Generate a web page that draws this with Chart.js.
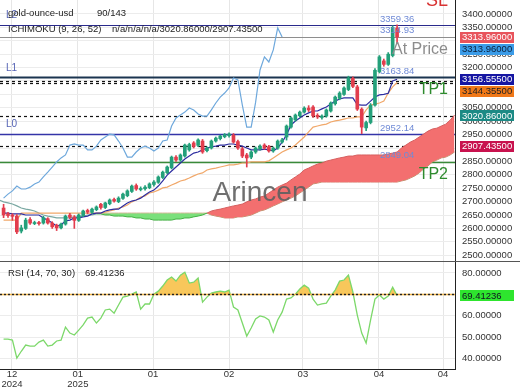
<!DOCTYPE html>
<html><head><meta charset="utf-8">
<script src="https://cdn.jsdelivr.net/npm/chart.js@4.4.1/dist/chart.umd.min.js"></script>
<style>
html,body{margin:0;padding:0;background:#fff;overflow:hidden;}
#wrap{position:relative;width:520px;height:390px;background:#fff;}
#main{position:absolute;left:0;top:0;width:520px;height:261px;}
#rsi{position:absolute;left:0;top:260px;width:520px;height:130px;}
</style></head><body>
<div id="wrap"><canvas id="main" width="520" height="261"></canvas><canvas id="rsi" width="520" height="130"></canvas></div>
<script>
// ---------------- data ----------------
const xTickValues = [1.9, 16.8, 33.8, 51, 67.7, 84.9, 99.4];
const xTickLabels = [['12','2024'], ['01','2025'], '01', '02', '03', '04', '04'];
const priceTicks = [2500,2550,2600,2650,2700,2750,2800,2850,2900,2950,3000,3050,3100,3150,3200,3250,3300,3350,3400];
const rsiTicks = [40,50,60,70,80];

const opens = [2676,2655,2650,2646,2590,2600,2633,2618,2622,2620,
2636,2620,2612,2602,2616,2650,2642,2630,2648,2667,
2660,2670,2690,2678,2692,2708,2700,2712,2722,2738,
2760,2745,2748,2752,2764,2772,2790,2808,2826,2866,
2855,2870,2893,2919,2910,2926,2890,2900,2926,2935,
2942,2946,2948,2924,2897,2874,2866,2885,2897,2911,
2905,2889,2900,2922,2941,2978,3005,3020,3034,3049,
3053,3022,3014,3019,3038,3065,3085,3100,3118,3160,
3128,3045,2975,2995,3060,3185,3225,3212,3245,3348];
const highs = [2690,2660,2655,2652,2612,2638,2640,2627,2626,2645,
2640,2625,2616,2620,2650,2656,2648,2654,2668,2672,
2676,2684,2694,2698,2710,2713,2718,2732,2744,2762,
2766,2755,2760,2770,2778,2796,2814,2833,2870,2872,
2878,2915,2918,2924,2934,2932,2904,2930,2941,2948,
2954,2957,2954,2930,2903,2880,2890,2904,2912,2916,
2910,2904,2930,2936,2986,3016,3027,3038,3054,3058,
3058,3028,3024,3046,3072,3094,3110,3128,3168,3166,
3134,3050,3000,3066,3196,3245,3232,3256,3356,3359.36];
const lows = [2640,2641,2630,2580,2583,2596,2615,2614,2612,2616,
2616,2600,2592,2598,2612,2636,2600,2626,2644,2655,
2656,2666,2672,2674,2688,2698,2696,2708,2718,2734,
2742,2740,2743,2748,2758,2768,2786,2804,2822,2850,
2850,2866,2888,2900,2905,2880,2885,2896,2922,2930,
2938,2940,2918,2895,2864,2829,2860,2880,2892,2895,
2884,2884,2895,2918,2929.35,2974,3000,3015,3030,3036,
3014,3010,3008,3015,3034,3060,3080,3096,3114,3125,
3040,2953.75,2965,2990,3056,3180,3205,3208,3240,3290];
const closes = [2650,2648,2645,2587,2602,2631,2620,2622,2618,2640,
2620,2606,2602,2616,2646,2642,2630,2650,2665,2661,
2672,2680,2678,2695,2706,2702,2713,2728,2740,2758,
2747,2749,2754,2766,2773,2792,2810,2829,2866,2855,
2874,2911,2913,2906,2930,2885,2900,2926,2937,2945,
2950,2952,2922,2900,2870,2863,2885,2900,2907,2900,
2889,2900,2926,2930,2982,3012,3023,3034,3049,3042,
3020,3016,3019,3042,3068,3090,3105,3124,3161,3130,
3045,2978,2995,3060,3190,3240,3212,3250,3350,3313.96];

const tenkan = [2657,2657,2654,2654,2654,2650,2650,2650,2650,2639,
2631,2620,2609,2613,2628,2631,2639,2639,2643,2646,
2654,2657,2657,2665,2669,2672,2672,2684,2695,2702,
2706,2713,2725,2736,2743,2758,2777,2799,2814,2829,
2844,2859,2870,2881,2885,2893,2900,2904,2907,2911,
2911,2915,2915,2911,2907,2900,2893,2893,2893,2896,
2893,2889,2900,2922,2949,2986,3001,3012,3023,3031,
3038,3038,3046,3053,3064,3075,3083,3087,3087,3087,
3062,3060,3060,3075,3090,3098,3100,3104,3150,3156.555];
const kijun = [2631,2631,2631,2631,2657,2657,2657,2657,2657,2657,
2657,2657,2657,2657,2657,2657,2657,2657,2657,2657,
2657,2657,2657,2661,2665,2669,2676,2680,2687,2699,
2706,2717,2721,2732,2736,2743,2751,2754,2762,2769,
2777,2781,2788,2796,2803,2807,2818,2822,2825,2829,
2833,2837,2837,2840,2844,2844,2848,2848,2848,2848,
2852,2863,2874,2885,2893,2900,2911,2926,2941,2960,
2978,2982,2986,2989,2997,3001,3004,3008,3012,3012,
3016,3016,3042,3060,3064,3068,3075,3105,3128,3144.355];
const chikou = [2713,2728,2740,2758,2747,2747,2754,2766,2773,2792,
2810,2829,2848,2863,2874,2911,2915,2911,2911,2893,
2893,2907,2930,2941,2952,2949,2926,2900,2866,2866,
2885,2900,2907,2900,2889,2900,2926,2930,2982,3012,
3023,3034,3049,3042,3027,3019,3019,3042,3068,3090,
3105,3124,3161,3154,3060,2978,2978,3070,3191,3240,
3221,3266,3348,3314];
// senkou span A, first value sits at index -1
const senkouA = [2706,2699,2695,2691,2684,2676,2672,2669,2665,2657,
2650,2646,2643,2639,2639,2639,2639,2643,2643,2646,
2650,2650,2654,2654,2650,2650,2646,2646,2646,2643,
2643,2639,2639,2635,2635,2631,2631,2631,2631,2631,
2635,2635,2639,2639,2643,2646,2650,2657,2665,2669,
2672,2676,2680,2684,2687,2691,2699,2706,2710,2717,
2721,2732,2743,2754,2762,2769,2781,2792,2803,2818,
2825,2833,2840,2844,2851,2855,2859,2863,2866,2870,
2870,2874,2874,2874,2874,2874,2874,2874,2878,2881,
2885,2900,2911,2922,2930,2941,2952,2963,2971,2974,
2982,2989,3004,3023];
// senkou span B, first value sits at index 21
const senkouB = [2657,2657,2657,2657,2657,2657,2657,2657,2657,2657,
2657,2657,2657,2657,2657,2657,2657,2657,2657,2657,
2657,2657,2657,2657,2657,2657,2650,2646,2643,2639,
2639,2639,2643,2643,2646,2650,2657,2665,2669,2676,
2684,2691,2699,2706,2713,2721,2732,2743,2754,2766,
2769,2773,2773,2773,2773,2773,2773,2773,2773,2773,
2773,2773,2773,2773,2773,2773,2773,2773,2773,2777,
2781,2788,2796,2807,2822,2833,2848,2855,2863,2866,
2874,2885];
const rsi = [49.1,49.1,48.6,40.2,43.4,46.3,45.8,45.8,47.7,48.6,
45.8,46.3,48.2,48.6,54.7,51.9,51.0,53.3,55.7,58.9,
59.4,56.6,58.9,62.7,63.1,61.2,65.0,68.7,69.2,70.1,
71.1,63.1,65.5,65.5,70.1,71.5,73.9,76.7,78.1,76.2,
79.0,80.4,75.3,75.7,77.6,66.4,68.7,70.6,71.1,71.5,
71.1,72.0,64.1,62.7,56.6,50.5,54.3,58.5,59.9,59.4,
58.0,52.4,58.0,61.7,67.8,68.3,70.1,72.5,74.3,72.9,
67.8,65.0,65.5,65.9,69.2,72.0,76.2,76.7,79.0,71.1,
60.3,51.9,47.2,58.0,67.8,69.7,67.8,69.2,73.4,69.41236];

const levelValues = [3359.36, 3313.96, 3163.84, 3151, 3142, 3020.86, 2952.14, 2907.435, 2849.04];
const levelTexts = [3359.36, 3314.93, 3163.84, 2952.14, 2849.04];
const lineNames = ['L2', 'L1', 'L0'];
const lineNameValues = [3359.36, 3163.84, 2952.14];
const badgeValues = [3313.96, 3313.96, 3156.555, 3144.355, 3020.86, 2907.435];
const rsiLevel = 70;

// ---------------- styles ----------------
const FONT = "'Liberation Sans', Arial, sans-serif";
Chart.defaults.font.family = FONT;
Chart.defaults.font.size = 9.5;
Chart.defaults.color = '#333';
const UP = '#23a07a', DOWN = '#e23d4d';
const A_START = -1, B_START = 21, CROSS = 46;
const X_MIN = -0.81, X_MAX = 102.1;
const levelStyles = [
  {c:'#2a2a8c', w:1.2, d:[]}, {c:'#8e8e8e', w:1, d:[]}, {c:'#1b3550', w:2, d:[]},
  {c:'#111', w:1.2, d:[3,3]}, {c:'#111', w:1.2, d:[3,3]}, {c:'#111', w:1.2, d:[3,3]},
  {c:'#3434a8', w:1.3, d:[]}, {c:'#111', w:1.2, d:[3,3]}, {c:'#3a8a3a', w:1.3, d:[]}
];
const badgeStyles = [
  {bg:'#e8545c', fg:'#fff'}, {bg:'#3b9ce8', fg:'#0b1f3a'}, {bg:'#1616a2', fg:'#fff'},
  {bg:'#f07818', fg:'#222'}, {bg:'#1c8a85', fg:'#fff'}, {bg:'#c8124e', fg:'#fff'}
];

const pts = (arr, start) => arr.map((v, k) => ({x: start + k, y: v}));
const candleColors = closes.map((c, i) => c >= opens[i] ? UP : DOWN);
const zeroPad = s => { s.paddingTop = 0; s.paddingBottom = 0; s.paddingLeft = 0; s.paddingRight = 0; };
const xTicksHook = s => { s.ticks = xTickValues.map(v => ({value: v})); };

const mainDeco = {
  id: 'mainDeco',
  beforeDatasetsDraw(chart) {
    const {ctx, chartArea: a, scales: {y}} = chart;
    ctx.save();
    levelValues.forEach((v, k) => {
      const st = levelStyles[k];
      const py = Math.round(y.getPixelForValue(v)) + 0.5;
      ctx.beginPath(); ctx.strokeStyle = st.c; ctx.lineWidth = st.w; ctx.setLineDash(st.d);
      ctx.moveTo(a.left, py); ctx.lineTo(a.right, py); ctx.stroke();
    });
    ctx.restore();
  },
  afterDatasetsDraw(chart) {
    const {ctx, scales: {y}} = chart;
    ctx.save();
    ctx.textBaseline = 'middle'; ctx.textAlign = 'left';
    ctx.font = '9.5px ' + FONT; ctx.fillStyle = '#6f8ad6';
    levelTexts.forEach(v => ctx.fillText(v.toFixed(2), 380, y.getPixelForValue(v) - 6));
    ctx.fillStyle = '#5563b5'; ctx.font = '10px ' + FONT;
    lineNames.forEach((n, k) => ctx.fillText(n, 6, y.getPixelForValue(lineNameValues[k]) - 9.5));
    ctx.fillStyle = '#222'; ctx.font = '9.5px ' + FONT;
    ctx.fillText('gold-ounce-usd', 8, 13);
    ctx.fillText('90/143', 97, 13);
    ctx.fillText('ICHIMOKU (9, 26, 52)', 8, 29);
    ctx.fillText('n/a/n/a/n/a/3020.86000/2907.43500', 112, 29);
    ctx.textAlign = 'right';
    ctx.font = '18px ' + FONT; ctx.fillStyle = '#d83232';
    ctx.fillText('SL', 448, y.getPixelForValue(levelValues[0]) - 24);
    ctx.font = '16px ' + FONT; ctx.fillStyle = '#8c8c8c';
    ctx.fillText('At Price', 448, y.getPixelForValue(levelValues[1]) + 12.5);
    ctx.fillStyle = '#2e8b2e';
    ctx.fillText('TP1', 448, y.getPixelForValue(levelValues[4]) + 6.5);
    ctx.fillText('TP2', 448, y.getPixelForValue(levelValues[8]) + 12.5);
    ctx.textAlign = 'center'; ctx.font = '28px ' + FONT; ctx.fillStyle = 'rgba(95,95,95,0.9)';
    ctx.fillText('Arincen', 260, 193);
    ctx.restore();
  },
  afterDraw(chart) {
    const {ctx, scales: {y}} = chart;
    ctx.save();
    ctx.textBaseline = 'middle'; ctx.textAlign = 'left'; ctx.font = '9.5px ' + FONT;
    let prev = -Infinity;
    badgeValues.forEach((v, k) => {
      const py = Math.max(y.getPixelForValue(v), prev + 12); prev = py;
      ctx.fillStyle = badgeStyles[k].bg; ctx.fillRect(460, Math.round(py - 5.5), 54, 11);
      ctx.fillStyle = badgeStyles[k].fg; ctx.fillText(v.toFixed(5), 462, py + 0.5);
    });
    ctx.restore();
  }
};

new Chart(document.getElementById('main'), {
  type: 'bar',
  data: { datasets: [
    {type:'bar', data: closes.map((c, i) => ({x: i, y: [opens[i], c]})), backgroundColor: candleColors, borderWidth: 0, barThickness: 3, grouped: false, order: 0},
    {type:'bar', data: closes.map((c, i) => ({x: i, y: [lows[i], highs[i]]})), backgroundColor: candleColors, borderWidth: 0, barThickness: 1, grouped: false, order: 1},
    {type:'line', data: pts(tenkan, 0), borderColor: '#2d2da0', borderWidth: 1.2, pointRadius: 0, fill: false, order: 2},
    {type:'line', data: pts(kijun, 0), borderColor: '#f1a86a', borderWidth: 1.2, pointRadius: 0, fill: false, order: 3},
    {type:'line', data: pts(chikou, 0), borderColor: '#6ea8dc', borderWidth: 1.2, pointRadius: 0, fill: false, order: 4},
    {type:'line', data: pts(senkouA.slice(0, B_START - A_START + 1), A_START), borderColor: '#7aa8a2', borderWidth: 1.2, pointRadius: 0, fill: false, order: 5},
    {type:'line', data: pts(senkouA.slice(B_START - A_START), B_START), borderWidth: 1, pointRadius: 0, order: 6,
     segment: {borderColor: c => (c.p0DataIndex + B_START < CROSS ? '#45b045' : '#d66060')},
     fill: {target: 7, above: '#f36f6f', below: '#7be07b'}},
    {type:'line', data: pts(senkouB, B_START), borderWidth: 1, pointRadius: 0, fill: false, order: 7,
     segment: {borderColor: c => (c.p0DataIndex + B_START < CROSS ? '#c9a57a' : '#d8786a')}}
  ]},
  options: {
    responsive: false, animation: false, devicePixelRatio: 1, events: [],
    layout: {padding: 0},
    plugins: {legend: {display: false}, tooltip: {enabled: false}},
    scales: {
      x: {type: 'linear', min: X_MIN, max: X_MAX, offset: false, position: 'bottom',
          grid: {color: '#e6e6e6', drawTicks: false, offset: false}, border: {display: false},
          ticks: {display: false, autoSkip: false},
          afterBuildTicks: xTicksHook,
          afterFit: s => { s.height = 0; zeroPad(s); }},
      y: {type: 'linear', position: 'right', min: 2478.4, max: 3452.2,
          grid: {color: '#ececec', drawTicks: false}, border: {display: true, color: '#222', width: 1},
          ticks: {padding: 7, autoSkip: false, color: '#333', callback: v => Number(v).toFixed(5)},
          afterBuildTicks: s => { s.ticks = priceTicks.map(v => ({value: v})); },
          afterFit: s => { s.width = 65; zeroPad(s); }}
    }
  },
  plugins: [mainDeco]
});

const rsiDeco = {
  id: 'rsiDeco',
  afterDatasetsDraw(chart) {
    const {ctx, chartArea: a, scales: {y}} = chart;
    const py = Math.round(y.getPixelForValue(rsiLevel)) + 0.5;
    ctx.save();
    ctx.beginPath(); ctx.strokeStyle = '#f0b448'; ctx.lineWidth = 1.4;
    ctx.moveTo(a.left, py); ctx.lineTo(a.right, py); ctx.stroke();
    ctx.beginPath(); ctx.strokeStyle = '#222'; ctx.setLineDash([2, 2]);
    ctx.moveTo(a.left, py); ctx.lineTo(a.right, py); ctx.stroke();
    ctx.setLineDash([]);
    ctx.fillStyle = '#222'; ctx.font = '9.5px ' + FONT; ctx.textBaseline = 'middle'; ctx.textAlign = 'left';
    ctx.fillText('RSI (14, 70, 30)', 8, 13);
    ctx.fillText(rsi[rsi.length - 1].toFixed(5), 85, 13);
    ctx.restore();
  },
  afterDraw(chart) {
    const {ctx, scales: {y}} = chart;
    ctx.save();
    ctx.fillStyle = '#555'; ctx.fillRect(0, 1, 520, 1);
    const v = rsi[rsi.length - 1];
    const py = y.getPixelForValue(v);
    ctx.fillStyle = '#2ee52e'; ctx.fillRect(460, Math.round(py - 5.5), 54, 11);
    ctx.fillStyle = '#112'; ctx.font = '9.5px ' + FONT; ctx.textBaseline = 'middle'; ctx.textAlign = 'left';
    ctx.fillText(v.toFixed(5), 462, py + 0.5);
    ctx.restore();
  }
};

new Chart(document.getElementById('rsi'), {
  type: 'line',
  data: { datasets: [
    {data: pts(rsi, 0), borderColor: '#7cd86a', borderWidth: 1.3, pointRadius: 0,
     fill: {target: {value: rsiLevel}, above: 'rgba(248,196,82,0.95)', below: 'rgba(0,0,0,0)'}}
  ]},
  options: {
    responsive: false, animation: false, devicePixelRatio: 1, events: [],
    layout: {padding: {top: 1, left: 0, right: 0, bottom: 0}},
    plugins: {legend: {display: false}, tooltip: {enabled: false}},
    scales: {
      x: {type: 'linear', min: X_MIN, max: X_MAX, offset: false, position: 'bottom',
          grid: {color: '#e6e6e6', drawTicks: false, offset: false}, border: {display: true, color: '#222', width: 1},
          ticks: {autoSkip: false, maxRotation: 0, padding: 1, color: '#333', font: {size: 9.5, lineHeight: 1.0},
                  callback: (v, i) => xTickLabels[i]},
          afterBuildTicks: xTicksHook,
          afterFit: s => { s.height = 21; zeroPad(s); }},
      y: {type: 'linear', position: 'right', min: 35.1, max: 85.6,
          grid: {color: '#ececec', drawTicks: false}, border: {display: true, color: '#222', width: 1},
          ticks: {padding: 7, autoSkip: false, color: '#333', callback: v => Number(v).toFixed(5)},
          afterBuildTicks: s => { s.ticks = rsiTicks.map(v => ({value: v})); },
          afterFit: s => { s.width = 65; zeroPad(s); }}
    }
  },
  plugins: [rsiDeco]
});
</script></body></html>
